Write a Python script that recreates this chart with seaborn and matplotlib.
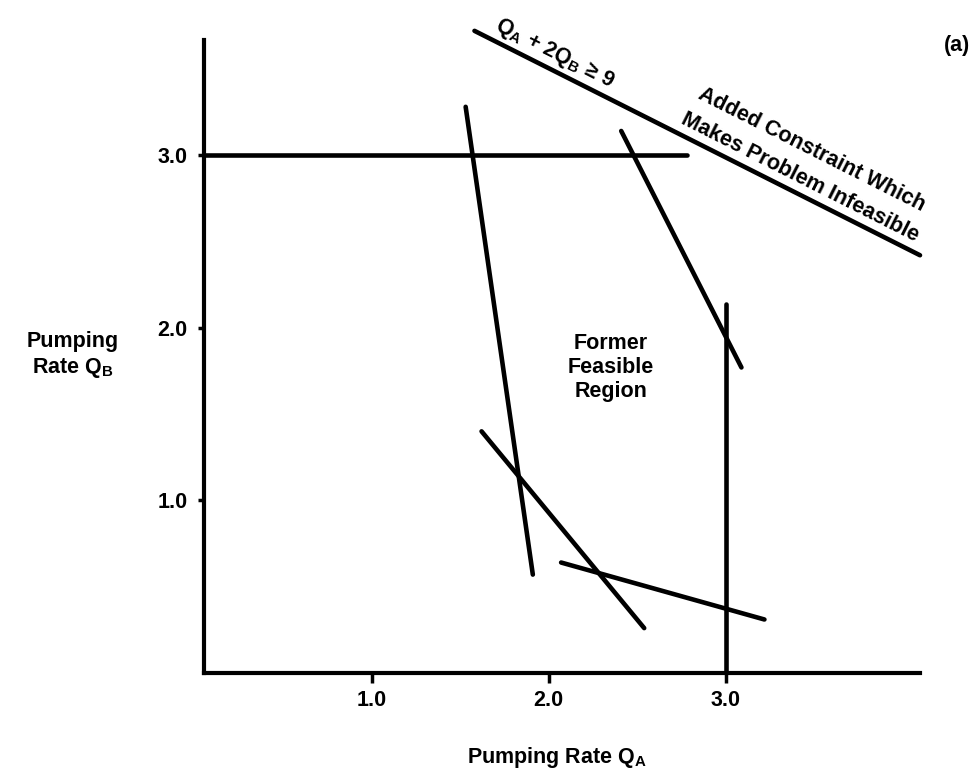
import pandas as pd
import numpy as np
from matplotlib import pyplot as plt
import seaborn as sns

# segment endpoints (QA, QB)
seg_names = ['qb_cap', 'qa_cap', 'c1', 'c2', 'c3', 'c4', 'added']
seg_x0 = [0.05, 3.00, 1.53, 1.62, 2.07, 2.41, 1.58]
seg_y0 = [3.00, 0.00, 3.28, 1.40, 0.64, 3.14, 3.72]
seg_x1 = [2.78, 3.00, 1.91, 2.54, 3.22, 3.09, 4.10]
seg_y1 = [3.00, 2.14, 0.57, 0.26, 0.31, 1.77, 2.42]

x_ticks = [1.0, 2.0, 3.0]
y_ticks = [1.0, 2.0, 3.0]
tick_labels = ['1.0', '2.0', '3.0']

rows = []
for i in range(len(seg_names)):
    rows.append({'seg': seg_names[i], 'QA': seg_x0[i], 'QB': seg_y0[i]})
    rows.append({'seg': seg_names[i], 'QA': seg_x1[i], 'QB': seg_y1[i]})
df = pd.DataFrame(rows)

sns.set_theme(style='white')
plt.rcParams['font.family'] = ['Liberation Sans', 'DejaVu Sans']
plt.rcParams['font.weight'] = 'bold'
plt.rcParams['text.color'] = 'black'
plt.rcParams['axes.labelcolor'] = 'black'
plt.rcParams['xtick.color'] = 'black'
plt.rcParams['ytick.color'] = 'black'
plt.rcParams['mathtext.fontset'] = 'custom'
plt.rcParams['mathtext.rm'] = 'Liberation Sans:bold'
plt.rcParams['mathtext.it'] = 'Liberation Sans:bold'
plt.rcParams['mathtext.bf'] = 'Liberation Sans:bold'

fs = 15.5
fig = plt.figure(figsize=(9.78, 7.71), dpi=100)
ax = fig.add_axes([204 / 978, 1 - 673 / 771, 716 / 978, 633 / 771])

sns.lineplot(data=df, x='QA', y='QB', units='seg', estimator=None, sort=False,
             color='black', linewidth=3.3, ax=ax)
for line in ax.lines:
    line.set_clip_on(False)
    line.set_solid_capstyle('round')

ax.set_xlim(0.05, 4.10)
ax.set_ylim(0, 3.667)
for s in ['top', 'right']:
    ax.spines[s].set_visible(False)
for s in ['left', 'bottom']:
    ax.spines[s].set_color('black')
    ax.spines[s].set_linewidth(3)

ax.set_xticks(x_ticks, tick_labels)
ax.set_yticks(y_ticks, tick_labels)
ax.tick_params(axis='x', direction='out', length=7, width=2.5, pad=5, labelsize=fs, bottom=True)
ax.tick_params(axis='y', direction='out', length=4, width=2.5, pad=8, labelsize=fs, left=True)

ax.set_xlabel('Pumping Rate Q$_\\mathrm{A}$', fontsize=fs, fontweight='bold', va='center')
ax.xaxis.set_label_coords(0.493, -0.133)
ax.set_ylabel('Pumping\nRate Q$_\\mathrm{B}$', fontsize=fs, fontweight='bold', rotation=0,
              ha='center', va='center', linespacing=1.25)
ax.yaxis.set_label_coords(-0.183, 0.502)

ax.text(2.35, 1.77, 'Former\nFeasible\nRegion', fontsize=fs, fontweight='bold',
        ha='center', va='center', linespacing=1.2)
ax.text(2.03, 3.59, 'Q$_\\mathrm{A}$ + 2Q$_\\mathrm{B}$ ≥ 9', fontsize=fs, fontweight='bold',
        rotation=-26.8, rotation_mode='anchor', ha='center', va='center', clip_on=False)
ax.text(3.49, 3.03, 'Added Constraint Which', fontsize=fs, fontweight='bold',
        rotation=-26.8, rotation_mode='anchor', ha='center', va='center', clip_on=False)
ax.text(3.42, 2.87, 'Makes Problem Infeasible', fontsize=fs, fontweight='bold',
        rotation=-26.8, rotation_mode='anchor', ha='center', va='center', clip_on=False)
fig.text(957 / 978, 1 - 45 / 771, '(a)', fontsize=fs, fontweight='bold', ha='center', va='center')

plt.savefig('out.png', dpi=100)
